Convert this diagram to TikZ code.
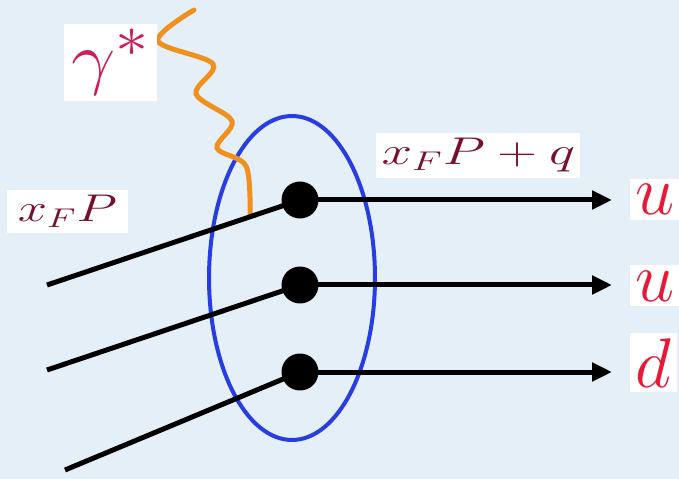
\RequirePackage{fix-cm}
\documentclass[tikz,border=0pt]{standalone}
\usepackage{graphicx}
\usetikzlibrary{arrows.meta,shapes.geometric}
\definecolor{bgc}{RGB}{229,239,247}
\definecolor{ellc}{RGB}{40,60,230}
\definecolor{phc}{RGB}{240,145,30}
\definecolor{gamc}{RGB}{205,30,90}
\definecolor{momc}{RGB}{120,15,45}
\definecolor{qc}{RGB}{232,25,55}
\begin{document}
\begin{tikzpicture}[x=0.02cm,y=-0.02cm,
  qline/.style={line width=0.1cm,black},
  qarrow/.style={qline,-{Triangle[length=0.4cm,width=0.36cm]}},
  dot/.style={circle,fill=black,minimum size=0.74cm,inner sep=0pt},
  lab/.style={fill=white,inner sep=3pt},
  big/.style={font=\fontsize{40}{44}\selectfont},
  mid/.style={font=\fontsize{22}{26}\selectfont}]
\fill[bgc] (0,0) rectangle (679,479);
\useasboundingbox (0,0) rectangle (679,479);
\node[draw=ellc,line width=0.08cm,ellipse,minimum width=3.32cm,minimum height=6.48cm,inner sep=0pt] (prot) at (292,278) {};
\coordinate (c1) at (300,200);
\coordinate (c2) at (300,285);
\coordinate (c3) at (300,372);
\coordinate (s1) at (47,285);
\coordinate (s2) at (47,370);
\coordinate (s3) at (65,470);
\coordinate (e1) at (612,200);
\coordinate (e2) at (612,285);
\coordinate (e3) at (612,372);
\draw[phc,line width=0.1cm,line cap=round] plot[smooth,tension=0.55] coordinates {(194,10) (158,41) (213,64) (196,94) (232,121) (217,148) (246,166) (250,214)};
\draw[qline] (s1) -- (c1);
\draw[qline] (s2) -- (c2);
\draw[qline] (s3) -- (c3);
\draw[qarrow] (c1) -- (e1);
\draw[qarrow] (c2) -- (e2);
\draw[qarrow] (c3) -- (e3);
\node[dot] (d1) at (c1) {};
\node[dot] (d2) at (c2) {};
\node[dot] (d3) at (c3) {};
\node[lab,big,text=qc,anchor=base west] (u1) at (630,215) {$u$};
\node[lab,big,text=qc,anchor=base west] (u2) at (630,301) {$u$};
\node[lab,big,text=qc,anchor=base west] (dd) at (630,387) {$d$};
\node[lab,big,text=gamc,anchor=base west,inner xsep=4pt] (gam) at (64,82) {\scalebox{1.12}[1]{$\gamma^{\scalebox{1.2}{$\scriptstyle *$}}$}};
\node[lab,mid,text=momc,anchor=base west] (mq) at (376,165) {\scalebox{1.42}[1]{$x_F P+q$}};
\node[lab,mid,text=momc,anchor=base west,inner xsep=6pt] (m0) at (7,222) {\scalebox{1.36}[1]{$x_F P$}};
\end{tikzpicture}
\end{document}
